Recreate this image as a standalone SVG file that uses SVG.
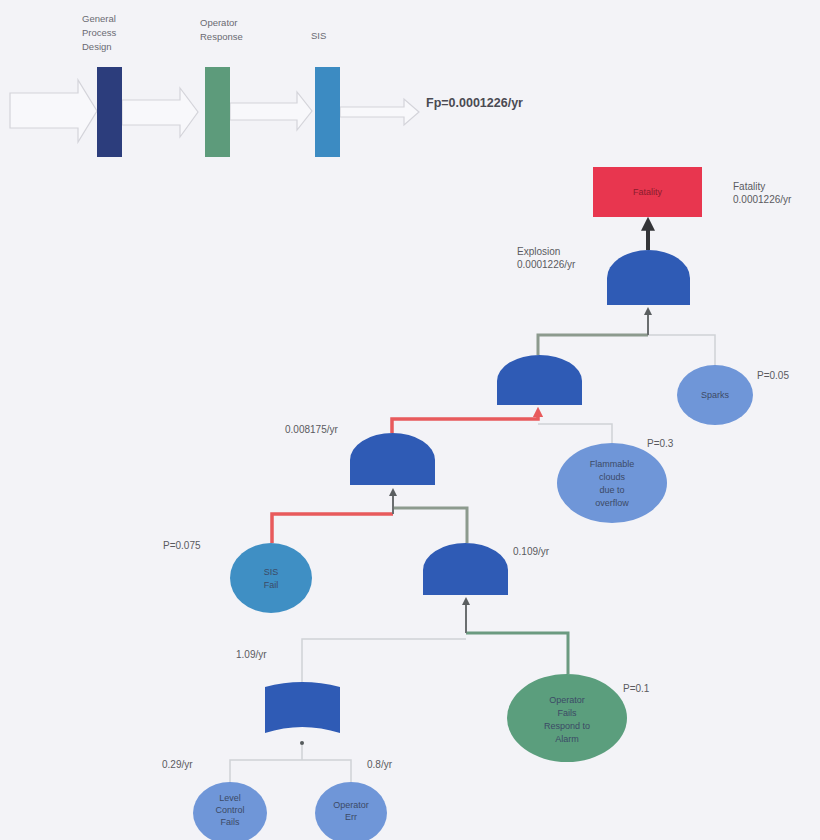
<svg xmlns="http://www.w3.org/2000/svg" width="820" height="840" viewBox="0 0 820 840">
  <defs>
    <style>
      .lbl { font-family: "Liberation Sans", Arial, sans-serif; font-size: 10px; fill: #5a5a60; }
      .head { font-family: "Liberation Sans", Arial, sans-serif; font-size: 9.5px; fill: #6a6a72; }
      .in { font-family: "Liberation Sans", Arial, sans-serif; font-size: 9px; fill: #3c4a66; text-anchor: middle; }
      .gate { fill: #2f5bb5; }
      .hollow { fill: #f8f8fb; stroke: #d4d4da; stroke-width: 1.2; }
      .thin { fill: none; stroke: #cfd2d6; stroke-width: 1.5; }
      .olive { fill: none; stroke: #8c9a8e; stroke-width: 3; }
      .green { fill: none; stroke: #6b9a80; stroke-width: 3; }
      .red { fill: none; stroke: #e85a5c; stroke-width: 3.5; }
      .tick { fill: none; stroke: #6a6e70; stroke-width: 2; }
    </style>
    <marker id="ah" viewBox="0 0 10 10" refX="5" refY="5" markerWidth="4" markerHeight="4" orient="auto">
      <path d="M0,0 L10,5 L0,10 Z" fill="#5a5e60"/>
    </marker>
    <marker id="ahRed" viewBox="0 0 10 10" refX="5" refY="5" markerWidth="3" markerHeight="3" orient="auto">
      <path d="M0,0 L10,5 L0,10 Z" fill="#e85a5c"/>
    </marker>
    <marker id="ahBig" viewBox="0 0 10 10" refX="2" refY="5" markerWidth="3.5" markerHeight="3.5" orient="auto">
      <path d="M0,0 L10,5 L0,10 Z" fill="#333438"/>
    </marker>
  </defs>

  <rect width="820" height="840" fill="#f3f3f7"/>

  <!-- protection layers strip -->
  <g id="layers">
    <path class="hollow" d="M10,93 L78,93 L78,80 L97,111 L78,142 L78,128 L10,128 Z"/>
    <path class="hollow" d="M122,100 L180,100 L180,88 L198,112 L180,137 L180,125 L122,125 Z"/>
    <path class="hollow" d="M230,103 L297,103 L297,92 L312,111 L297,130 L297,120 L230,120 Z"/>
    <path class="hollow" d="M340,107 L404,107 L404,99 L419,112 L404,125 L404,117 L340,117 Z"/>
  </g>
  <g id="layer-design">
    <rect x="97" y="67" width="25" height="90" fill="#2c3d7c"/>
    <text class="head" x="82" y="22">General</text>
    <text class="head" x="82" y="36">Process</text>
    <text class="head" x="82" y="50">Design</text>
  </g>
  <g id="layer-operator">
    <rect x="205" y="67" width="25" height="90" fill="#5d9b7b"/>
    <text class="head" x="200" y="26">Operator</text>
    <text class="head" x="200" y="40">Response</text>
  </g>
  <g id="layer-sis">
    <rect x="315" y="67" width="25" height="90" fill="#3c8bc2"/>
    <text class="head" x="311" y="39">SIS</text>
  </g>
  <text x="426" y="107" font-family="Liberation Sans, Arial, sans-serif" font-size="12.5" font-weight="bold" fill="#4a4a52">Fp=0.0001226/yr</text>

  <!-- connectors -->
  <g id="connectors">
    <line x1="648" y1="250" x2="648" y2="228" stroke="#333438" stroke-width="4" marker-end="url(#ahBig)"/>
    <polyline class="olive" points="538,355 538,335 648,335"/>
    <polyline class="thin" points="648,335 715,335 715,365"/>
    <line class="tick" x1="648" y1="335" x2="648" y2="311" marker-end="url(#ah)"/>

    <polyline class="thin" points="538,424 612,424 612,443"/>
    <polyline class="red" points="392,433 392,419 538,419 538,412" marker-end="url(#ahRed)"/>

    <polyline class="olive" points="393,508 467,508 467,543"/>
    <polyline class="red" points="272,543 272,514 393,514"/>
    <line class="tick" x1="393" y1="514" x2="393" y2="492" marker-end="url(#ah)"/>

    <polyline class="thin" points="466,639 302,639 302,685"/>
    <polyline class="green" points="466,633 568,633 568,674"/>
    <line class="tick" x1="466" y1="633" x2="466" y2="601" marker-end="url(#ah)"/>

    <polyline class="thin" points="230,783 230,760 351,760 351,783"/>
    <line class="thin" x1="302" y1="760" x2="302" y2="745"/>
    <circle cx="302" cy="743" r="2" fill="#555a5c"/>
  </g>

  <!-- top event -->
  <g id="fatality">
    <rect x="593" y="167" width="109" height="50" fill="#e8364f"/>
    <text x="647.5" y="195" font-family="Liberation Sans, Arial, sans-serif" font-size="9" fill="#8a1c2c" text-anchor="middle">Fatality</text>
    <text class="lbl" x="733" y="190">Fatality</text>
    <text class="lbl" x="733" y="203">0.0001226/yr</text>
  </g>

  <g id="gate-explosion">
    <path class="gate" d="M607,305 L607,278 A41.5,28 0 0 1 690,278 L690,305 Z"/>
    <text class="lbl" x="517" y="255">Explosion</text>
    <text class="lbl" x="517" y="268">0.0001226/yr</text>
  </g>

  <g id="sparks">
    <ellipse cx="715" cy="395" rx="38" ry="30" fill="#6f96d8"/>
    <text class="in" x="715" y="398">Sparks</text>
    <text class="lbl" x="757" y="379">P=0.05</text>
  </g>

  <g id="gate-ignition">
    <path class="gate" d="M497,405 L497,381 A42.5,26 0 0 1 582,381 L582,405 Z"/>
  </g>

  <g id="flammable">
    <ellipse cx="612" cy="483" rx="55" ry="40" fill="#6f96d8"/>
    <text class="in" x="612" y="467">Flammable</text>
    <text class="in" x="612" y="480">clouds</text>
    <text class="in" x="612" y="493">due to</text>
    <text class="in" x="612" y="506">overflow</text>
    <text class="lbl" x="647" y="447">P=0.3</text>
  </g>

  <g id="gate-overflow">
    <path class="gate" d="M350,485 L350,460 A42.5,27 0 0 1 435,460 L435,485 Z"/>
    <text class="lbl" x="285" y="433">0.008175/yr</text>
  </g>

  <g id="sis-fail">
    <ellipse cx="271" cy="578" rx="41" ry="35" fill="#3f8fc4"/>
    <text class="in" x="271" y="575">SIS</text>
    <text class="in" x="271" y="588">Fail</text>
    <text class="lbl" x="163" y="549">P=0.075</text>
  </g>

  <g id="gate-demand">
    <path class="gate" d="M423,595 L423,570 A42.5,27 0 0 1 508,570 L508,595 Z"/>
    <text class="lbl" x="513" y="555">0.109/yr</text>
  </g>

  <g id="operator-alarm">
    <ellipse cx="567" cy="718" rx="60" ry="44" fill="#5b9e7d"/>
    <text class="in" x="567" y="703" fill="#2f4a3c">Operator</text>
    <text class="in" x="567" y="716">Fails</text>
    <text class="in" x="567" y="729">Respond to</text>
    <text class="in" x="567" y="742">Alarm</text>
    <text class="lbl" x="623" y="692">P=0.1</text>
  </g>

  <g id="gate-or">
    <path class="gate" d="M265,687 Q302,677 340,687 L340,733 Q302,721 265,733 Z"/>
    <text class="lbl" x="236" y="658">1.09/yr</text>
  </g>

  <g id="level-control">
    <ellipse cx="230" cy="813" rx="37" ry="31" fill="#6f96d8"/>
    <text class="in" x="230" y="801">Level</text>
    <text class="in" x="230" y="813">Control</text>
    <text class="in" x="230" y="825">Fails</text>
    <text class="lbl" x="162" y="768">0.29/yr</text>
  </g>

  <g id="operator-err">
    <ellipse cx="351" cy="813" rx="36" ry="31" fill="#6f96d8"/>
    <text class="in" x="351" y="808">Operator</text>
    <text class="in" x="351" y="820">Err</text>
    <text class="lbl" x="367" y="768">0.8/yr</text>
  </g>
</svg>
